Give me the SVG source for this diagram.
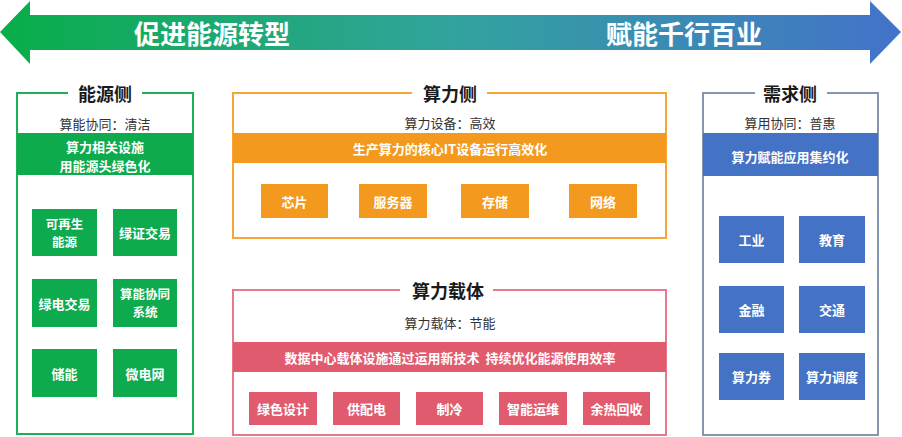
<svg xmlns="http://www.w3.org/2000/svg" width="902" height="437" viewBox="0 0 902 437">
<defs>
<linearGradient id="ag" x1="0" y1="0" x2="902" y2="0" gradientUnits="userSpaceOnUse">
<stop offset="0" stop-color="#08AE48"/>
<stop offset="0.5" stop-color="#32A39E"/>
<stop offset="1" stop-color="#4472CA"/>
</linearGradient>
</defs>
<style>
text{font-family:"Noto Sans CJK SC","Noto Sans",sans-serif;text-anchor:middle;dominant-baseline:central}
.big{font-size:26px;font-weight:bold;fill:#fff}
.ttl{font-size:18px;font-weight:bold;fill:#1a1a1a}
.sub{font-size:13px;fill:#333}
.wb{font-size:13px;font-weight:bold;fill:#fff}
.sm{font-size:12.5px}
.g{fill:#0DAA4E}.o{fill:#F39A1E}.p{fill:#E15B6F}.b{fill:#4472C4}
.frame{fill:none;stroke-width:2}
</style>
<g id="arrow">
<polygon points="0,32 30,1 30,15 870,15 870,1 901,32 870,64 870,50 30,50 30,64" fill="url(#ag)"/>
<text class="big" x="212" y="32">促进能源转型</text>
<text class="big" x="684" y="32">赋能千行百业</text>
</g>
<g id="energy">
<path class="frame" stroke="#1DB055" d="M68,93 H17 V434 H193 V93 H142"/>
<text class="ttl" x="105" y="93">能源侧</text>
<text class="sub" x="105" y="123">算能协同：清洁</text>
<rect class="g" x="17" y="133" width="176" height="42"/>
<text class="wb" x="105" y="146">算力相关设施</text>
<text class="wb" x="105" y="165">用能源头绿色化</text>
<rect class="g" x="32" y="209" width="65" height="47"/>
<text class="wb sm" x="64.5" y="223.500">可再生</text>
<text class="wb sm" x="64.5" y="241.500">能源</text>
<rect class="g" x="113" y="209" width="64" height="47"/>
<text class="wb" x="145" y="232.500">绿证交易</text>
<rect class="g" x="32" y="279" width="65" height="48"/>
<text class="wb" x="64.5" y="303">绿电交易</text>
<rect class="g" x="113" y="279" width="64" height="48"/>
<text class="wb sm" x="145" y="293.500">算能协同</text>
<text class="wb sm" x="145" y="311.500">系统</text>
<rect class="g" x="32" y="349" width="65" height="48"/>
<text class="wb" x="64.5" y="373">储能</text>
<rect class="g" x="113" y="349" width="64" height="48"/>
<text class="wb" x="145" y="373">微电网</text>
</g>
<g id="compute">
<path class="frame" stroke="#F7A634" d="M412,93 H233 V238 H666 V93 H487"/>
<text class="ttl" x="450" y="93">算力侧</text>
<text class="sub" x="450" y="122">算力设备：高效</text>
<rect class="o" x="233" y="133" width="433" height="30"/>
<text class="wb" x="450" y="148">生产算力的核心IT设备运行高效化</text>
<rect class="o" x="261" y="184" width="67" height="34"/>
<text class="wb" x="294.500" y="201">芯片</text>
<rect class="o" x="359" y="184" width="68" height="34"/>
<text class="wb" x="393" y="201">服务器</text>
<rect class="o" x="461" y="184" width="68" height="34"/>
<text class="wb" x="495" y="201">存储</text>
<rect class="o" x="569" y="184" width="68" height="34"/>
<text class="wb" x="603" y="201">网络</text>
</g>
<g id="carrier">
<path class="frame" stroke="#E8788A" d="M400,290 H233 V435 H666 V290 H493"/>
<text class="ttl" x="448" y="290">算力载体</text>
<text class="sub" x="450" y="322">算力载体：节能</text>
<rect class="p" x="233" y="342" width="433" height="30"/>
<text class="wb" x="450" y="357" xml:space="preserve" style="white-space:pre">数据中心载体设施通过运用新技术  持续优化能源使用效率</text>
<rect class="p" x="249" y="392" width="68" height="33"/>
<text class="wb" x="283" y="408.500">绿色设计</text>
<rect class="p" x="333" y="392" width="67" height="33"/>
<text class="wb" x="366.500" y="408.500">供配电</text>
<rect class="p" x="416" y="392" width="67" height="33"/>
<text class="wb" x="449.500" y="408.500">制冷</text>
<rect class="p" x="499" y="392" width="68" height="33"/>
<text class="wb" x="533" y="408.500">智能运维</text>
<rect class="p" x="583" y="392" width="67" height="33"/>
<text class="wb" x="616.500" y="408.500">余热回收</text>
</g>
<g id="demand">
<path class="frame" stroke="#8497B0" d="M755,93 H703 V435 H878 V93 H827"/>
<text class="ttl" x="790" y="93">需求侧</text>
<text class="sub" x="790" y="122">算用协同：普惠</text>
<rect class="b" x="703" y="133" width="175" height="43"/>
<text class="wb" x="790" y="156">算力赋能应用集约化</text>
<rect class="b" x="719" y="216" width="65" height="47"/>
<text class="wb" x="751.500" y="239.500">工业</text>
<rect class="b" x="799" y="216" width="66" height="47"/>
<text class="wb" x="832" y="239.500">教育</text>
<rect class="b" x="719" y="286" width="65" height="47"/>
<text class="wb" x="751.500" y="309.500">金融</text>
<rect class="b" x="799" y="286" width="66" height="47"/>
<text class="wb" x="832" y="309.500">交通</text>
<rect class="b" x="719" y="353" width="65" height="47"/>
<text class="wb" x="751.500" y="376.500">算力券</text>
<rect class="b" x="799" y="353" width="66" height="47"/>
<text class="wb" x="832" y="376.500">算力调度</text>
</g>
<g id="connectors"/>
</svg>
